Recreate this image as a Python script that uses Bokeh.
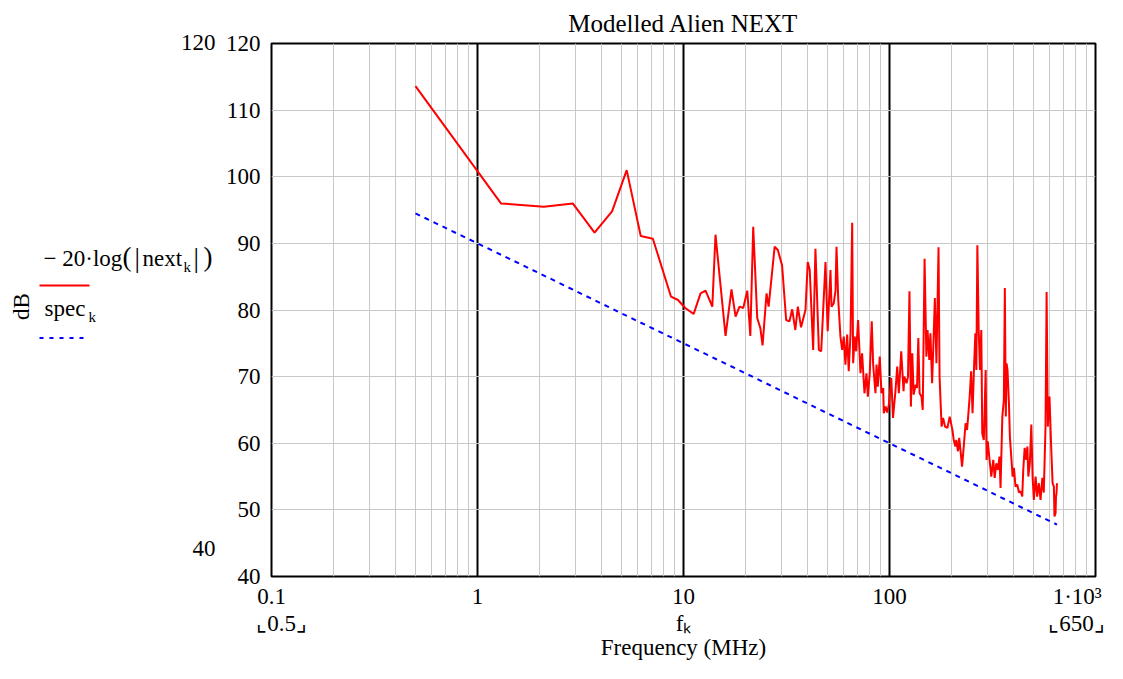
import math
from bokeh.plotting import figure
from bokeh.layouts import row
from bokeh.models import Range1d, FixedTicker, LogAxis
from bokeh.core.properties import value
from bokeh.embed import file_html
from bokeh.resources import INLINE

# ---------------- data ----------------
freq_next = [0.5, 1.3, 2.1, 2.9, 3.7, 4.5, 5.3, 6.2, 7.1, 8.7, 9.4, 10.2, 11.2, 12.1, 12.8,
             13.8, 14.3, 16.0, 17.1, 17.9, 18.7, 19.5, 20.4, 21.1, 21.8, 22.8, 23.6, 24.2,
             25.3, 25.9, 27.7, 28.7, 30.1, 31.5, 32.7, 33.7, 34.9, 35.9, 37.2, 39.1, 40.1,
             41.0, 42.6, 43.7, 45.4, 46.6, 48.9, 50.1, 51.7, 52.3, 53.6, 54.7, 55.3, 56.4,
             57.8, 58.9, 60.0, 61.1, 62.3, 63.4, 64.7, 65.9, 66.6, 67.8, 68.9, 70.4, 72.3,
             73.6, 75.6, 77.3, 78.5, 80.2, 82.0, 83.3, 85.5, 86.5, 87.7, 89.7, 91.4, 93.2,
             93.8, 95.7, 97.5, 99.3, 102, 104, 107, 109, 111, 114, 117, 118, 121, 123, 125,
             127, 129, 131, 134, 136, 138, 140, 143, 145, 148, 151, 153, 156, 158, 161, 164,
             166, 169, 173, 175, 179, 182, 186, 191, 196, 202, 205, 209, 211, 215, 218, 221,
             225, 230, 234, 238, 242, 245, 249, 253, 257, 261, 264, 267, 271, 275, 279, 282,
             287, 293, 296, 300, 306, 312, 319, 324, 330, 336, 342, 346, 353, 359, 363, 367,
             370, 374, 380, 384, 390, 396, 402, 409, 417, 425, 433, 441, 446, 453, 461, 467,
             472, 480, 488, 495, 502, 512, 521, 531, 541, 552, 561, 572, 579, 587, 598, 610,
             619, 628, 632, 640, 643, 647, 650]
db_next = [113.6, 96.0, 95.5, 96.0, 91.6, 94.8, 101.0, 91.1, 90.7, 82.0, 81.5, 80.3, 79.4, 82.5,
           82.9, 80.5, 91.3, 76.1, 83.1, 79.0, 80.5, 80.3, 82.9, 76.1, 92.5, 78.8, 77.3, 74.7,
           82.5, 80.5, 89.5, 89.0, 86.7, 78.5, 78.3, 80.1, 77.0, 80.5, 77.4, 80.0, 87.2, 86.0,
           74.0, 89.2, 74.0, 73.8, 87.2, 76.8, 86.0, 80.5, 81.0, 82.9, 89.5, 81.5, 76.0, 74.0,
           76.0, 71.8, 76.3, 70.8, 76.5, 93.1, 72.0, 76.0, 73.8, 78.5, 70.5, 73.5, 67.5, 70.5,
           67.0, 70.5, 78.3, 71.8, 67.5, 71.8, 68.5, 73.0, 67.5, 68.3, 64.5, 65.5, 64.6, 65.8,
           69.8, 63.8, 68.0, 71.5, 67.5, 73.8, 67.8, 70.0, 69.0, 70.0, 82.8, 65.5, 73.5, 67.3,
           68.8, 68.3, 75.8, 67.5, 67.0, 65.0, 87.7, 73.0, 77.0, 72.5, 76.5, 69.0, 76.5, 81.8,
           72.0, 89.4, 70.0, 62.5, 63.8, 62.5, 62.3, 64.0, 62.0, 60.5, 59.5, 60.5, 58.8, 60.8,
           59.0, 56.5, 60.0, 63.0, 62.0, 64.8, 67.0, 70.8, 64.5, 71.0, 76.5, 71.0, 89.7, 77.0,
           71.0, 77.0, 61.5, 60.5, 71.0, 57.5, 60.3, 57.5, 55.0, 57.5, 54.8, 57.0, 56.0, 58.0,
           53.3, 64.0, 66.5, 83.3, 64.0, 72.0, 71.0, 66.0, 61.0, 58.0, 55.0, 56.3, 53.5, 53.8,
           52.6, 52.8, 52.0, 56.0, 59.3, 57.5, 59.5, 55.0, 57.0, 62.8, 55.0, 51.5, 55.0, 52.0,
           54.0, 51.5, 54.8, 52.6, 62.5, 82.7, 62.5, 67.0, 59.0, 54.0, 53.5, 49.0, 49.5, 52.0,
           52.6, 54.0]

freq_spec = [0.5, 1, 2, 5, 10, 20, 50, 100, 200, 500, 650]
db_spec = [94.5, 90.0, 85.5, 79.5, 75.0, 70.5, 64.5, 60.0, 55.5, 49.5, 47.8]

x_ticks = [0.1, 1, 10, 100, 1000]
x_tick_labels = ["0.1", "1", "10", "100", "1·10³\u00a0"]
y_ticks = [40, 50, 60, 70, 80, 90, 100, 110, 120]

title_text = "Modelled Alien NEXT"
x_title = "Frequency (MHz)"
x_var_labels = ["⌞0.5⌟", "fₖ", "⌞650⌟"]
y_title = "dB"
y_limit_labels = ["120", "40"]
legend_main = ["− 20·log", "(", "|", "next", "k", "|", ")"]
legend_spec = ["spec", "k"]

# ---------------- layout constants (pixels) ----------------
W, H = 1107, 663
SW = 221                      # width of the left text/legend strip
FL, FT = 271, 43              # frame left / top
FW, FHt = 824, 533            # frame width / height
FB = FT + FHt
MW = W - SW
SERIF = "Liberation Serif"
DEC = FW / 4.0

# ---------------- main chart ----------------
p = figure(width=MW, height=H, x_axis_type="log",
           x_range=Range1d(0.1, 1000), y_range=Range1d(40, 120),
           output_backend="svg", toolbar_location=None,
           min_border_left=FL - SW, min_border_right=MW - (FL - SW) - FW,
           min_border_top=FT, min_border_bottom=H - FB)

p.background_fill_color = "white"
p.border_fill_color = "white"
p.outline_line_color = "black"
p.outline_line_width = 2

minor = [m * d for d in [0.1, 1, 10, 100] for m in range(2, 10)]
xt = FixedTicker(ticks=x_ticks, minor_ticks=minor)
xax = p.xaxis[0]
yax = p.yaxis[0]
xax.ticker = xt
p.xgrid.ticker = xt
xax.major_label_overrides = {tk: lb for tk, lb in zip(x_ticks, x_tick_labels)}
yax.ticker = FixedTicker(ticks=y_ticks)

for ax in (xax, yax):
    ax.axis_line_color = None
    ax.major_tick_line_color = None
    ax.minor_tick_line_color = None
    ax.major_tick_out = 0
    ax.minor_tick_out = 0
    ax.major_label_text_font = SERIF
    ax.major_label_text_font_size = "23px"
    ax.major_label_text_color = "black"
xax.major_label_standoff = 7
yax.major_label_standoff = 11


def xd(px):
    return 0.1 * 10 ** ((px - FL) / DEC)


# second row below the axis: Mathcad's range / variable labels + axis title
var_ticks = [xd(281), 10, xd(1076)]
ax2 = LogAxis(ticker=FixedTicker(ticks=var_ticks, minor_ticks=[]),
              major_label_overrides={tk: lb for tk, lb in zip(var_ticks, x_var_labels)},
              axis_label=x_title)
ax2.axis_line_color = None
ax2.major_tick_line_color = None
ax2.minor_tick_line_color = None
ax2.major_tick_out = 0
ax2.minor_tick_out = 0
ax2.major_label_standoff = -1
ax2.major_label_text_font = SERIF
ax2.major_label_text_font_size = "23px"
ax2.major_label_text_color = "black"
ax2.axis_label_standoff = -4
ax2.axis_label_text_font = SERIF
ax2.axis_label_text_font_size = "23px"
ax2.axis_label_text_font_style = "normal"
ax2.axis_label_text_color = "black"
p.add_layout(ax2, "below")

p.xgrid.grid_line_color = "black"
p.xgrid.grid_line_width = 2
p.xgrid.minor_grid_line_color = "#c8c8c8"
p.xgrid.minor_grid_line_width = 1
p.ygrid.grid_line_color = "#c8c8c8"
p.ygrid.grid_line_width = 1

p.title.text = title_text
p.title.text_font = SERIF
p.title.text_font_size = "25px"
p.title.text_font_style = "normal"
p.title.text_color = "black"
p.title.align = "center"
p.title.standoff = 14

p.line(freq_next, db_next, line_color="#ff0000", line_width=2)
p.line(freq_spec, db_spec, line_color="#0000ff", line_width=2, line_dash="5 5")

# ---------------- left strip: y title, limit labels, legend ----------------
s = figure(width=SW, height=H, x_range=Range1d(0, SW), y_range=Range1d(FB, FT),
           output_backend="svg", toolbar_location=None,
           x_axis_location=None, y_axis_location=None,
           min_border_left=0, min_border_right=0,
           min_border_top=FT, min_border_bottom=H - FB)
s.outline_line_color = None
s.grid.visible = False
s.background_fill_color = "white"
s.border_fill_color = "white"

# upper limit label sits on the frame's top edge -> drawn as the strip's title
s.title.text = y_limit_labels[0]
s.title.text_font = SERIF
s.title.text_font_size = "23px"
s.title.text_font_style = "normal"
s.title.text_color = "black"
s.title.align = "right"
s.title.offset = 6
s.title.standoff = -13


def t(x, y, txt, size="23px", align="left", angle=0.0):
    s.text(x=[x], y=[y], text=[txt], text_font=value(SERIF), text_font_size=value(size),
           text_align=align, text_baseline="middle", angle=angle, text_color="black")


t(215, 548, y_limit_labels[1], align="right")
t(21, 306, y_title, align="center", angle=math.pi / 2)

# legend entry 1: − 20·log(|next_k|)
t(43, 258, legend_main[0])
t(122, 256, legend_main[1], size="27px")
t(134, 257, legend_main[2], size="27px")
t(142, 258, legend_main[3])
t(183, 266, legend_main[4], size="15px")
t(193, 257, legend_main[5], size="27px")
t(203, 256, legend_main[6], size="27px")
s.line(x=[39, 89], y=[285, 285], line_color="#ff0000", line_width=2)

# legend entry 2: spec_k
t(44, 308, legend_spec[0])
t(88, 316, legend_spec[1], size="15px")
s.line(x=[39, 89], y=[337.5, 337.5], line_color="#0000ff", line_width=2, line_dash="4 6")

layout = row(s, p)
open("out.html", "w").write(file_html(layout, INLINE))
